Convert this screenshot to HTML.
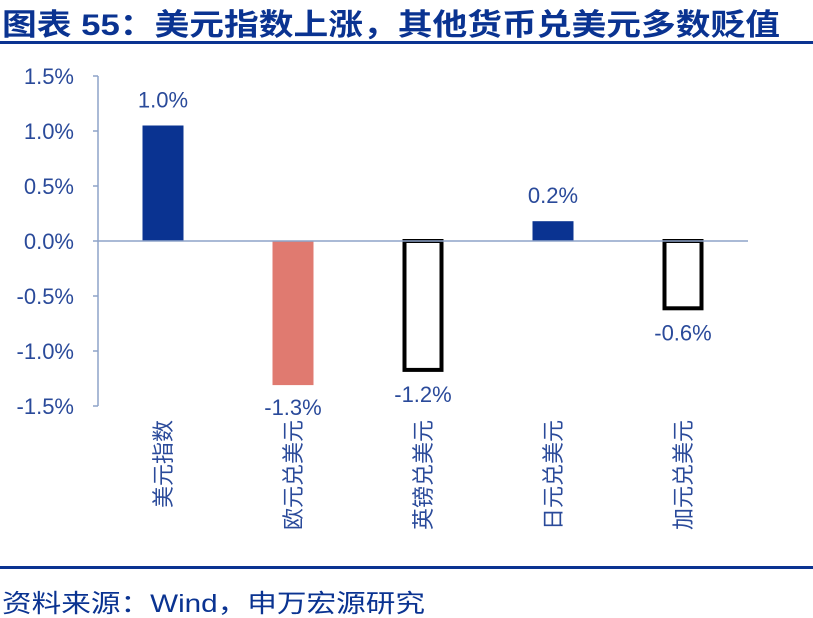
<!DOCTYPE html>
<html><head><meta charset="utf-8"><style>
html,body{margin:0;padding:0;background:#fff;width:813px;height:618px;overflow:hidden}
svg text{font-family:"Liberation Sans","Noto Sans CJK SC",sans-serif}
</style></head><body>
<svg width="813" height="618" viewBox="0 0 813 618" xmlns="http://www.w3.org/2000/svg">
<text x="2" y="35" font-size="30" font-weight="bold" fill="#0a3391" textLength="778" lengthAdjust="spacingAndGlyphs">图表 55：美元指数上涨，其他货币兑美元多数贬值</text>
<rect x="0" y="41" width="813" height="3" fill="#0a3391"/>
<g id="plot"></g>
<rect x="0" y="566" width="813" height="3" fill="#0a3391"/>
<text x="2" y="612" font-size="25" fill="#0a3391" textLength="423" lengthAdjust="spacingAndGlyphs">资料来源：Wind，申万宏源研究</text>
</svg>
<script>
const categories=["美元指数","欧元兑美元","英镑兑美元","日元兑美元","加元兑美元"];
const values=[1.05,-1.31,-1.19,0.18,-0.63];
const valueLabels=["1.0%","-1.3%","-1.2%","0.2%","-0.6%"];
const barStyles=["navy","salmon","outline","navy","outline"];
const yTicks=[1.5,1.0,0.5,0.0,-0.5,-1.0,-1.5];
const yTickLabels=["1.5%","1.0%","0.5%","0.0%","-0.5%","-1.0%","-1.5%"];

const NS="http://www.w3.org/2000/svg";
const g=document.getElementById('plot');
const x0=98,band=130,yMin=-1.5,yMax=1.5,yTop=76,yBot=406;
const y=v=>yTop+(yMax-v)/(yMax-yMin)*(yBot-yTop);
const xc=i=>x0+band*(i+0.5);
function mk(t,a){const e=document.createElementNS(NS,t);for(const k in a)e.setAttribute(k,a[k]);g.appendChild(e);return e;}
const axis=mk('line',{x1:x0,y1:yTop,x2:x0,y2:yBot,stroke:'#8ea3c8','stroke-width':1.5});


yTicks.forEach((v,i)=>{
  const t=mk('line',{x1:x0-5,y1:y(v),x2:x0,y2:y(v),stroke:'#8ea3c8','stroke-width':1.5});
  
  
  const l=mk('text',{x:74,y:y(v)+8,'font-size':22,fill:'#2a4a9a','text-anchor':'end'});
  l.textContent=yTickLabels[i];
  
  
});
const bw=41;
values.forEach((v,i)=>{
  const s=barStyles[i];
  const y1=Math.min(y(v),y(0)),h=Math.abs(y(v)-y(0));
  let r;
  if(s==='outline'){
    r=mk('rect',{x:xc(i)-bw/2+2,y:y1,width:bw-4,height:Math.max(h-2,0),fill:'none',stroke:'#000','stroke-width':4});
  } else {
    r=mk('rect',{x:xc(i)-bw/2,y:y1,width:bw,height:h,fill:s==='navy'?'#0a3391':'#e07a70'});
  }
  
  
  const ly=v>=0?y(v)-18:y(v)+30;
  const t=mk('text',{x:xc(i),y:ly,'font-size':22,fill:'#2a4a9a','text-anchor':'middle'});
  t.textContent=valueLabels[i];
  
  
  const c=mk('text',{x:0,y:0,'font-size':22,fill:'#2a4a9a','text-anchor':'end',transform:`translate(${xc(i)+8},420) rotate(-90)`});
  c.textContent=categories[i];
  
  
});
const zero=mk('line',{x1:x0,y1:y(0),x2:x0+band*5,y2:y(0),stroke:'#8ea3c8','stroke-width':1.5});


</script>
</body></html>
